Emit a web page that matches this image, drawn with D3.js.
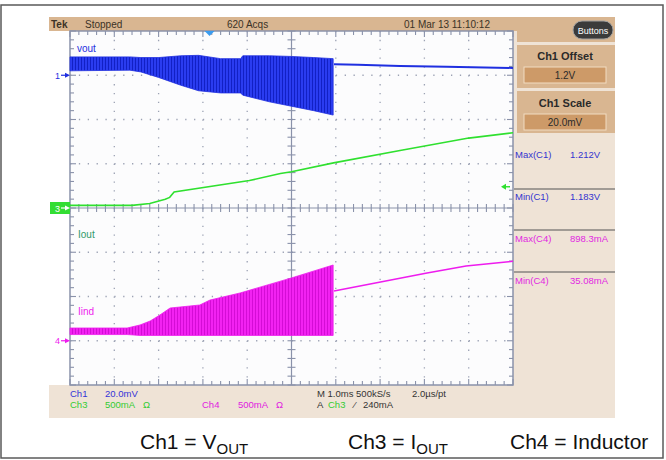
<!DOCTYPE html>
<html>
<head>
<meta charset="utf-8">
<script src="https://cdn.jsdelivr.net/npm/d3@7"></script>
<style>
  body { margin: 0; background: #fff; }
  svg { display: block; }
  .scope { font-family: "Liberation Sans Narrow", "Arial Narrow", "Liberation Sans", Arial, sans-serif; }
  .caption { font-family: "Liberation Sans", Arial, sans-serif; }
</style>
</head>
<body>
<svg id="chart" width="666" height="460"></svg>
<script>
// Time in ms (1.0 ms/div, 10 divisions across the screen)
// Ch1 Vout (V): switching band envelope, then the settled trace
var voutTime  = [0, 1.35, 1.6, 2.0, 2.5, 2.9, 3.4, 3.85, 3.9, 4.5, 5.0, 5.5, 5.94];
var voutUpper = [1.2083, 1.2083, 1.208, 1.208, 1.2088, 1.209, 1.2075, 1.2075, 1.2088, 1.2088, 1.2085, 1.208, 1.2075];
var voutLower = [1.202, 1.2023, 1.2015, 1.199, 1.1955, 1.193, 1.192, 1.192, 1.191, 1.188, 1.186, 1.184, 1.182];
var voutTailTime = [5.96, 6.5, 7.45, 8.5, 10];
var voutTail     = [1.2050, 1.2047, 1.2042, 1.2038, 1.2033];

// Ch3 Iout (A)
var ioutTime = [0, 1.4, 1.8, 2.15, 2.25, 2.35, 4.05, 4.75, 5.0, 5.95, 7.45, 9.0, 10];
var iout     = [0.03, 0.03, 0.05, 0.10, 0.12, 0.18, 0.31, 0.39, 0.41, 0.51, 0.65, 0.79, 0.85];

// Ch4 Inductor current (A): ripple envelope, then the settled trace
var iindTime  = [0, 1.29, 1.58, 1.81, 2.03, 2.26, 2.48, 2.93, 3.16, 3.84, 5.0, 5.94];
var iindUpper = [0.144, 0.144, 0.178, 0.223, 0.291, 0.37, 0.381, 0.404, 0.46, 0.54, 0.71, 0.856];
var iindLower = [0.07, 0.07, 0.06, 0.06, 0.06, 0.06, 0.06, 0.06, 0.06, 0.06, 0.06, 0.06];
var iindTailTime = [5.96, 8.06, 8.94, 9.9, 10];
var iindTail     = [0.562, 0.766, 0.845, 0.893, 0.898];

// Channel settings
var ch1Offset = 1.2, ch1Scale = 0.02, ch1Pos = 3;
var ch3Scale = 0.5, ch3Pos = 0;
var ch4Scale = 0.5, ch4Pos = -3;
var triggerTime = 3.15, triggerLevel = 0.24;

var headerTexts = ["Tek", "Stopped", "620 Acqs", "01 Mar 13 11:10:12"];
var measureNames  = ["Max(C1)", "Min(C1)", "Max(C4)", "Min(C4)"];
var measureValues = ["1.212V", "1.183V", "898.3mA", "35.08mA"];

var blue = "#1f2fe0", green = "#2fe02f", magenta = "#ee1cee";
var tan = "#d9b691", beige = "#efe3d6", gridColor = "#8a92aa";

var svg = d3.select("#chart");
var scr = { left: 70, right: 513, top: 31, bottom: 385 };

var x = d3.scaleLinear().domain([0, 10]).range([scr.left, scr.right]);
var yDiv = d3.scaleLinear().domain([-4, 4]).range([scr.bottom, scr.top]);
var y1 = d3.scaleLinear()
    .domain([ch1Offset - (4 + ch1Pos) * ch1Scale, ch1Offset + (4 - ch1Pos) * ch1Scale])
    .range([scr.bottom, scr.top]);
var y3 = d3.scaleLinear().domain([(-4 - ch3Pos) * ch3Scale, (4 - ch3Pos) * ch3Scale]).range([scr.bottom, scr.top]);
var y4 = d3.scaleLinear().domain([(-4 - ch4Pos) * ch4Scale, (4 - ch4Pos) * ch4Scale]).range([scr.bottom, scr.top]);

// outer frame
svg.append("rect").attr("x", 1).attr("y", 5).attr("width", 662).attr("height", 453)
    .attr("fill", "none").attr("stroke", "#5a5a5a").attr("stroke-width", 1.5);

// scope panels
svg.append("rect").attr("x", 49).attr("y", 17).attr("width", 566).attr("height", 14).attr("fill", tan);
svg.append("rect").attr("x", scr.right).attr("y", 17).attr("width", 102).attr("height", 116).attr("fill", tan);
svg.append("rect").attr("x", scr.right).attr("y", 31).attr("width", 4).attr("height", 102).attr("fill", beige);
svg.append("rect").attr("x", scr.right).attr("y", 42).attr("width", 102).attr("height", 3).attr("fill", beige);
svg.append("rect").attr("x", scr.right).attr("y", 88).attr("width", 102).attr("height", 3).attr("fill", beige);
svg.append("rect").attr("x", scr.right).attr("y", 133).attr("width", 102).attr("height", 252).attr("fill", beige);
svg.append("rect").attr("x", 49).attr("y", scr.bottom).attr("width", 566).attr("height", 33).attr("fill", beige);

// graticule background
svg.append("rect").attr("x", scr.left).attr("y", scr.top)
    .attr("width", scr.right - scr.left).attr("height", scr.bottom - scr.top).attr("fill", "#fcfcfd");

var grid = svg.append("g");
var xStep = (x(1) - x(0)) / 5, yStep = (yDiv(0) - yDiv(1)) / 5;

// dotted major divisions
x.ticks(10).filter(d => d > 0 && d < 10 && d !== 5).forEach(function (d) {
    grid.append("line").attr("x1", x(d)).attr("x2", x(d)).attr("y1", scr.top).attr("y2", scr.bottom)
        .attr("stroke", "#9ca2b4").attr("stroke-width", 1.3)
        .attr("stroke-dasharray", "1.3 " + (yStep - 1.3));
});
yDiv.ticks(8).filter(d => d > -4 && d < 4 && d !== 0).forEach(function (d) {
    grid.append("line").attr("y1", yDiv(d)).attr("y2", yDiv(d)).attr("x1", scr.left).attr("x2", scr.right)
        .attr("stroke", "#9ca2b4").attr("stroke-width", 1.3)
        .attr("stroke-dasharray", "1.3 " + (xStep - 1.3));
});

// center cross
grid.append("line").attr("x1", x(5)).attr("x2", x(5)).attr("y1", scr.top).attr("y2", scr.bottom)
    .attr("stroke", gridColor).attr("stroke-width", 1.2);
grid.append("line").attr("y1", yDiv(0)).attr("y2", yDiv(0)).attr("x1", scr.left).attr("x2", scr.right)
    .attr("stroke", gridColor).attr("stroke-width", 1.2);

// minor ticks on the frame and center lines
x.ticks(50).forEach(function (d, i) {
    var len = (i % 5 === 0) ? 6 : 4;
    grid.append("line").attr("x1", x(d)).attr("x2", x(d)).attr("y1", scr.top).attr("y2", scr.top + len)
        .attr("stroke", gridColor).attr("stroke-width", 1.1);
    grid.append("line").attr("x1", x(d)).attr("x2", x(d)).attr("y1", scr.bottom).attr("y2", scr.bottom - len)
        .attr("stroke", gridColor).attr("stroke-width", 1.1);
    grid.append("line").attr("x1", x(d)).attr("x2", x(d)).attr("y1", yDiv(0) - 4).attr("y2", yDiv(0) + 4)
        .attr("stroke", gridColor).attr("stroke-width", 1.1);
});
yDiv.ticks(40).forEach(function (d, i) {
    var len = (i % 5 === 0) ? 6 : 4;
    grid.append("line").attr("y1", yDiv(d)).attr("y2", yDiv(d)).attr("x1", scr.left).attr("x2", scr.left + len)
        .attr("stroke", gridColor).attr("stroke-width", 1.1);
    grid.append("line").attr("y1", yDiv(d)).attr("y2", yDiv(d)).attr("x1", scr.right).attr("x2", scr.right - len)
        .attr("stroke", gridColor).attr("stroke-width", 1.1);
    grid.append("line").attr("y1", yDiv(d)).attr("y2", yDiv(d)).attr("x1", x(5) - 4).attr("x2", x(5) + 4)
        .attr("stroke", gridColor).attr("stroke-width", 1.1);
});
grid.append("rect").attr("x", scr.left).attr("y", scr.top)
    .attr("width", scr.right - scr.left).attr("height", scr.bottom - scr.top)
    .attr("fill", "none").attr("stroke", gridColor).attr("stroke-width", 1.5);

// striped fills for the switching bands
var defs = svg.append("defs");
function stripes(id, base, dark) {
    var p = defs.append("pattern").attr("id", id).attr("width", 3).attr("height", 10)
        .attr("patternUnits", "userSpaceOnUse");
    p.append("rect").attr("width", 3).attr("height", 10).attr("fill", base);
    p.append("rect").attr("width", 1).attr("height", 10).attr("fill", dark);
}
stripes("blueBand", "#2a3cf0", "#1220c4");
stripes("magBand", "#f222f2", "#d40cd6");

var traces = svg.append("g");

// Ch3 Iout
traces.append("path").datum(ioutTime)
    .attr("fill", "none").attr("stroke", green).attr("stroke-width", 1.6)
    .attr("d", d3.line().x(d => x(d)).y((d, i) => y3(iout[i])));

// Ch1 band + tail
traces.append("path").datum(voutTime)
    .attr("fill", "url(#blueBand)").attr("stroke", blue).attr("stroke-width", 0.8)
    .attr("d", d3.area().x(d => x(d)).y0((d, i) => y1(voutLower[i])).y1((d, i) => y1(voutUpper[i])));
traces.append("path").datum(voutTailTime)
    .attr("fill", "none").attr("stroke", blue).attr("stroke-width", 2)
    .attr("d", d3.line().x(d => x(d)).y((d, i) => y1(voutTail[i])));

// Ch4 band + tail
traces.append("path").datum(iindTime)
    .attr("fill", "url(#magBand)").attr("stroke", magenta).attr("stroke-width", 0.8)
    .attr("d", d3.area().x(d => x(d)).y0((d, i) => y4(iindLower[i])).y1((d, i) => y4(iindUpper[i])));
traces.append("path").datum(iindTailTime)
    .attr("fill", "none").attr("stroke", magenta).attr("stroke-width", 1.6)
    .attr("d", d3.line().x(d => x(d)).y((d, i) => y4(iindTail[i])));

// trace labels
var lab = svg.append("g").attr("class", "scope").attr("font-size", 10);
lab.append("text").attr("x", 77).attr("y", y1(1.2105)).attr("fill", blue).text("vout");
lab.append("text").attr("x", 78).attr("y", y3(-0.34)).attr("fill", "#2f9a6a").text("Iout");
lab.append("text").attr("x", 78).attr("y", y4(0.29)).attr("fill", magenta).text("Iind");

// ground / position markers on the left
var m = svg.append("g").attr("class", "scope").attr("font-size", 9);
function marker(yy, color, label, boxed) {
    if (boxed) {
        m.append("rect").attr("x", 50).attr("y", yy - 6).attr("width", 20).attr("height", 12).attr("fill", color);
    }
    var c = boxed ? "#fff" : color;
    m.append("text").attr("x", 55).attr("y", yy + 3.5).attr("fill", c).text(label);
    m.append("path").attr("d", `M61,${yy}L68,${yy}`).attr("stroke", c).attr("stroke-width", 1.2);
    m.append("path").attr("d", `M65,${yy - 2.5}L70,${yy}L65,${yy + 2.5}Z`).attr("fill", c);
}
marker(y1(ch1Offset), blue, "1", false);
marker(y3(0), "#33dd33", "3", true);
marker(y4(0), magenta, "4", false);

// trigger position and level
var tx = x(triggerTime);
svg.append("path").attr("d", `M${tx - 5},${scr.top}L${tx + 5},${scr.top}L${tx},${scr.top + 5}Z`).attr("fill", "#3a9cf0");
var ty = y3(triggerLevel);
svg.append("path").attr("d", `M510,${ty}L503,${ty}`).attr("stroke", green).attr("stroke-width", 1.4);
svg.append("path").attr("d", `M506,${ty - 3}L501,${ty}L506,${ty + 3}Z`).attr("fill", green);

// header text
var hdr = svg.append("g").attr("class", "scope").attr("font-size", 10).attr("fill", "#3b3226");
var hdrX = [51, 85, 227, 404];
headerTexts.forEach(function (t, i) {
    hdr.append("text").attr("x", hdrX[i]).attr("y", 27.5).attr("font-weight", i === 0 ? "bold" : "normal").text(t);
});

// right panel
var rp = svg.append("g").attr("class", "scope");
rp.append("rect").attr("x", 573).attr("y", 21).attr("width", 40).attr("height", 18).attr("rx", 9)
    .attr("fill", "#3b3b3b").attr("stroke", "#a0a0a0").attr("stroke-width", 1);
rp.append("text").attr("x", 593).attr("y", 33.5).attr("text-anchor", "middle").attr("font-size", 9)
    .attr("fill", "#fff").text("Buttons");
[["Ch1 Offset", "1.2V", 60, 67], ["Ch1 Scale", "20.0mV", 107, 114]].forEach(function (s) {
    rp.append("text").attr("x", 565).attr("y", s[2]).attr("text-anchor", "middle").attr("font-size", 11)
        .attr("font-weight", "bold").attr("fill", "#2a2a2a").text(s[0]);
    rp.append("rect").attr("x", 524).attr("y", s[3]).attr("width", 82).attr("height", 16)
        .attr("fill", "#cd9a68").attr("stroke", "#f2dcc2").attr("stroke-width", 1);
    rp.append("text").attr("x", 565).attr("y", s[3] + 12).attr("text-anchor", "middle").attr("font-size", 10)
        .attr("fill", "#2a2a2a").text(s[1]);
});
var measY = [158, 200, 242, 284];
measureNames.forEach(function (n, i) {
    var c = i < 2 ? "#3434d0" : "#e228e2";
    rp.append("text").attr("x", 515).attr("y", measY[i]).attr("font-size", 9.5).attr("fill", c).text(n);
    rp.append("text").attr("x", 570).attr("y", measY[i]).attr("font-size", 9.5).attr("fill", c).text(measureValues[i]);
});
[189, 230, 272].forEach(function (yy) {
    rp.append("line").attr("x1", 514).attr("x2", 615).attr("y1", yy).attr("y2", yy)
        .attr("stroke", "#555").attr("stroke-width", 1.2);
});

// bottom status bar
var st = svg.append("g").attr("class", "scope").attr("font-size", 9.5);
var statusItems = [
    ["Ch1", 70, 397, "#3434d8"], ["20.0mV", 105, 397, "#3434d8"],
    ["Ch3", 70, 408, "#33cc33"], ["500mA", 105, 408, "#33cc33"], ["\u03A9", 143, 408, "#33cc33"],
    ["Ch4", 202, 408, "#e020e0"], ["500mA", 238, 408, "#e020e0"], ["\u03A9", 276, 408, "#e020e0"],
    ["M 1.0ms 500kS/s", 317, 397, "#333"], ["2.0\u00B5s/pt", 412, 397, "#333"],
    ["A", 317, 408, "#333"], ["Ch3", 328, 408, "#33cc33"], ["\u2044", 354, 408, "#333"], ["240mA", 363, 408, "#333"]
];
statusItems.forEach(function (s) {
    st.append("text").attr("x", s[1]).attr("y", s[2]).attr("fill", s[3]).text(s[0]);
});

// caption below the screenshot
var cap = svg.append("g").attr("class", "caption").attr("font-size", 21).attr("fill", "#111");
function caption(xx, main, sub) {
    var t = cap.append("text").attr("x", xx).attr("y", 449).text(main);
    if (sub) t.append("tspan").attr("font-size", 15).attr("dy", 5).text(sub);
}
caption(140, "Ch1 = V", "OUT");
caption(348, "Ch3 = I", "OUT");
caption(510, "Ch4 = Inductor", null);
</script>
</body>
</html>
